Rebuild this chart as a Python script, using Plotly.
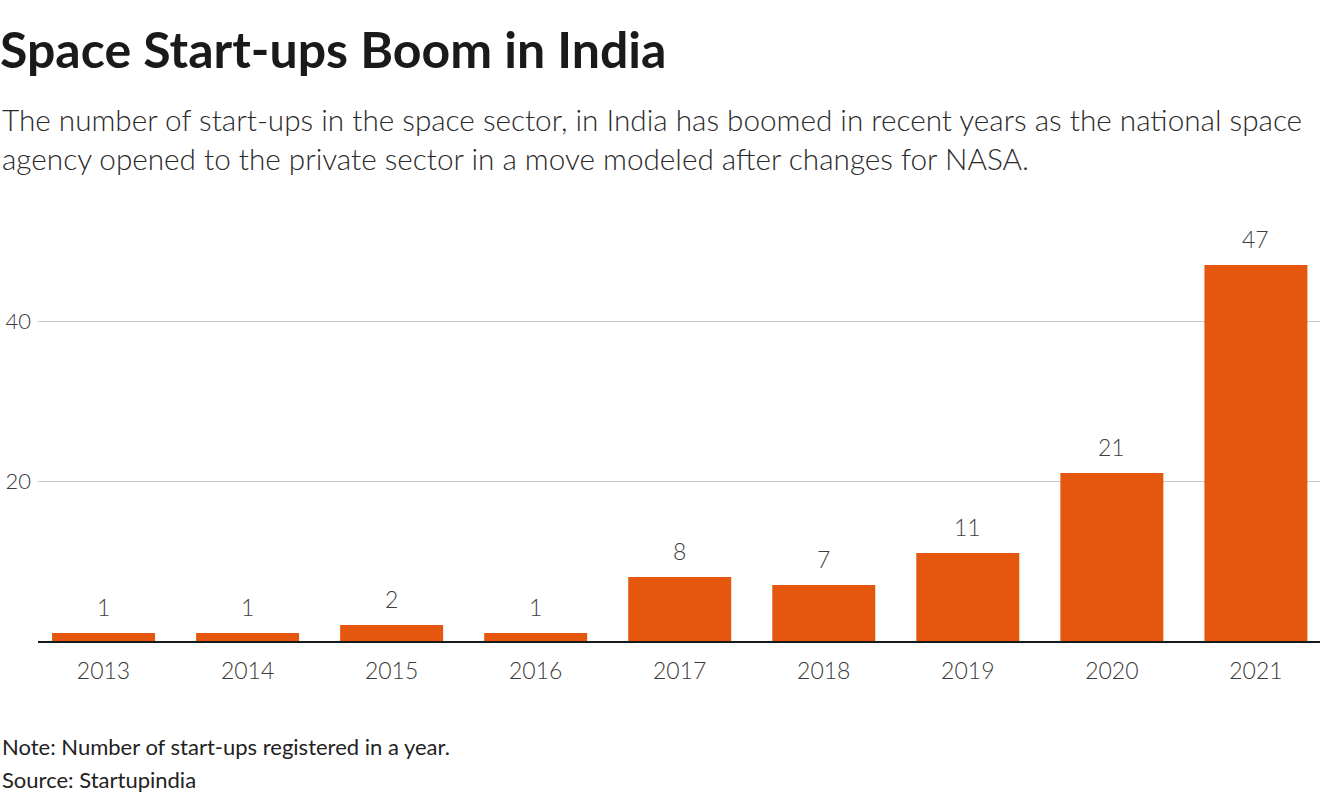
import plotly.graph_objects as go

years = ["2013", "2014", "2015", "2016", "2017", "2018", "2019", "2020", "2021"]
startups = [1, 1, 2, 1, 8, 7, 11, 21, 47]

W, H = 1320, 800
L, R, T, B = 38, 0, 241, 159
FONT = "Lato"

def px_x(px):
    return (px - L) / (W - L - R)

def px_y(py):
    return (H - B - py) / (H - T - B)

fig = go.Figure(go.Bar(
    x=years, y=startups,
    marker=dict(color="#e5570f", line=dict(width=0)),
    width=0.715,
    hoverinfo="skip",
))

label_annotations = [
    dict(x=i, y=v, xref="x", yref="y", text=str(v), showarrow=False,
         yanchor="middle", yshift=26,
         font=dict(family=FONT, size=23, color="#404040", weight=300))
    for i, v in enumerate(startups)
]

fig.update_layout(
    width=W, height=H,
    margin=dict(l=L, r=R, t=T, b=B),
    paper_bgcolor="white", plot_bgcolor="white",
    showlegend=False,
    font=dict(family=FONT, color="#333333"),
    title=dict(
        text="<b>Space Start-ups Boom in India</b>",
        x=0, xref="container", xanchor="left",
        y=1 - 50 / H, yref="container", yanchor="middle",
        font=dict(family=FONT, size=50, color="#1a1a1a"),
    ),
    xaxis=dict(
        type="category",
        range=[-0.455, 8.445],
        showgrid=False,
        showline=True, linecolor="#1a1a1a", linewidth=2,
        ticks="", tickfont=dict(family=FONT, size=23, color="#3a3a3a", weight=300),
        ticklabelstandoff=8,
    ),
    yaxis=dict(
        range=[0, 50],
        tickvals=[20, 40],
        showgrid=True, gridcolor="#c8c8c8", gridwidth=1,
        zeroline=False, showline=False, ticks="",
        tickfont=dict(family=FONT, size=22, color="#3a3a3a", weight=300),
        ticklabelstandoff=6,
    ),
    annotations=label_annotations + [
        dict(text="The number of start-ups in the space sector, in India has boomed in recent years as the national space<br>agency opened to the private sector in a move modeled after changes for NASA.",
             x=px_x(0), y=px_y(100), xref="paper", yref="paper",
             xanchor="left", yanchor="top", align="left", showarrow=False,
             font=dict(family=FONT, size=29.7, color="#2a2a2a", weight=300)),
        dict(text="Note: Number of start-ups registered in a year.",
             x=px_x(0), y=px_y(746), xref="paper", yref="paper",
             xanchor="left", yanchor="middle", align="left", showarrow=False,
             font=dict(family=FONT, size=22, color="#222222")),
        dict(text="Source: Startupindia",
             x=px_x(0), y=px_y(779), xref="paper", yref="paper",
             xanchor="left", yanchor="middle", align="left", showarrow=False,
             font=dict(family=FONT, size=22, color="#222222")),
    ],
)

fig.write_html("out.html", config={"displayModeBar": False},
               post_script="document.body.style.margin='0';document.body.style.padding='0';")
